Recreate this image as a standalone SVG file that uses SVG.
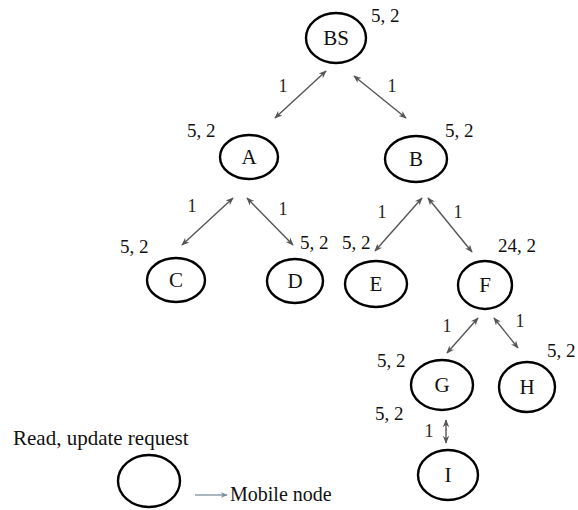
<svg xmlns="http://www.w3.org/2000/svg" width="578" height="510" viewBox="0 0 578 510" font-family="'Liberation Serif', 'DejaVu Serif', serif">
<defs>
<marker id="ah" viewBox="0 0 10 10" refX="9" refY="5" markerWidth="8" markerHeight="8" markerUnits="userSpaceOnUse" orient="auto-start-reverse">
<path d="M0,1 L10,5 L0,9 L3,5 Z" fill="#555"/>
</marker>
<marker id="ah2" viewBox="0 0 10 10" refX="9" refY="5" markerWidth="7" markerHeight="7" markerUnits="userSpaceOnUse" orient="auto">
<path d="M0,1 L10,5 L0,9 L3,5 Z" fill="#7a8fa0"/>
</marker>
</defs>
<style>
.n{fill:#fff;stroke:#000;stroke-width:2.4}
text{font-family:'Liberation Serif','DejaVu Serif',serif;fill:#111}
.lbl{font-size:21px;text-anchor:middle}
.w{font-size:19px}
.one{font-size:18px;text-anchor:middle;fill:#2a2618}
.c{fill:none;stroke:#555;stroke-width:1.4;marker-start:url(#ah);marker-end:url(#ah)}
</style>
<rect width="578" height="510" fill="#fff"/>
<g id="connectors">
<line class="c" x1="326" y1="71" x2="275" y2="118"/>
<line class="c" x1="354" y1="76" x2="406" y2="118"/>
<line class="c" x1="233" y1="198" x2="182" y2="245"/>
<line class="c" x1="247" y1="198" x2="293" y2="245"/>
<line class="c" x1="422" y1="198" x2="375" y2="251"/>
<line class="c" x1="428" y1="198" x2="472" y2="252"/>
<line class="c" x1="478" y1="318" x2="447" y2="353"/>
<line class="c" x1="494" y1="318" x2="518" y2="348"/>
<line class="c" x1="446" y1="420" x2="446" y2="443"/>
<text class="one" x="283" y="92">1</text>
<text class="one" x="392" y="92">1</text>
<text class="one" x="192" y="212">1</text>
<text class="one" x="283" y="215">1</text>
<text class="one" x="382" y="218">1</text>
<text class="one" x="458" y="218">1</text>
<text class="one" x="447" y="332">1</text>
<text class="one" x="520" y="327">1</text>
<text class="one" x="429" y="437">1</text>
</g>
<g id="BS"><ellipse class="n" cx="336" cy="38" rx="30" ry="25"/><text class="lbl" x="336" y="45">BS</text><text class="w" x="371" y="22">5, 2</text></g>
<g id="A"><ellipse class="n" cx="249" cy="157" rx="29" ry="22"/><text class="lbl" x="249" y="164">A</text><text class="w" x="187" y="137">5, 2</text></g>
<g id="B"><ellipse class="n" cx="416" cy="159" rx="31" ry="23"/><text class="lbl" x="416" y="166">B</text><text class="w" x="445" y="137">5, 2</text></g>
<g id="C"><ellipse class="n" cx="176" cy="280" rx="29" ry="22"/><text class="lbl" x="176" y="287">C</text><text class="w" x="120" y="253">5, 2</text></g>
<g id="D"><ellipse class="n" cx="295" cy="281" rx="28" ry="22"/><text class="lbl" x="295" y="288">D</text><text class="w" x="300" y="249">5, 2</text></g>
<g id="E"><ellipse class="n" cx="376" cy="284" rx="31" ry="23"/><text class="lbl" x="376" y="291">E</text><text class="w" x="342" y="249">5, 2</text></g>
<g id="F"><ellipse class="n" cx="485" cy="285" rx="27" ry="24"/><text class="lbl" x="485" y="292">F</text><text class="w" x="498" y="252">24, 2</text></g>
<g id="G"><ellipse class="n" cx="442" cy="385" rx="31" ry="25"/><text class="lbl" x="442" y="392">G</text><text class="w" x="377" y="367">5, 2</text><text class="w" x="375" y="420">5, 2</text></g>
<g id="H"><ellipse class="n" cx="527" cy="387" rx="28" ry="25"/><text class="lbl" x="527" y="394">H</text><text class="w" x="547" y="357">5, 2</text></g>
<g id="I"><ellipse class="n" cx="448" cy="475" rx="30" ry="25"/><text class="lbl" x="448" y="482">I</text></g>
<g id="legend">
<text x="13" y="445" font-size="21">Read, update request</text>
<ellipse class="n" cx="149" cy="481" rx="31" ry="26"/>
<line x1="195" y1="495" x2="227" y2="495" stroke="#7a8fa0" stroke-width="1.3" marker-end="url(#ah2)"/>
<text x="230" y="501" font-size="20">Mobile node</text>
</g>
</svg>
